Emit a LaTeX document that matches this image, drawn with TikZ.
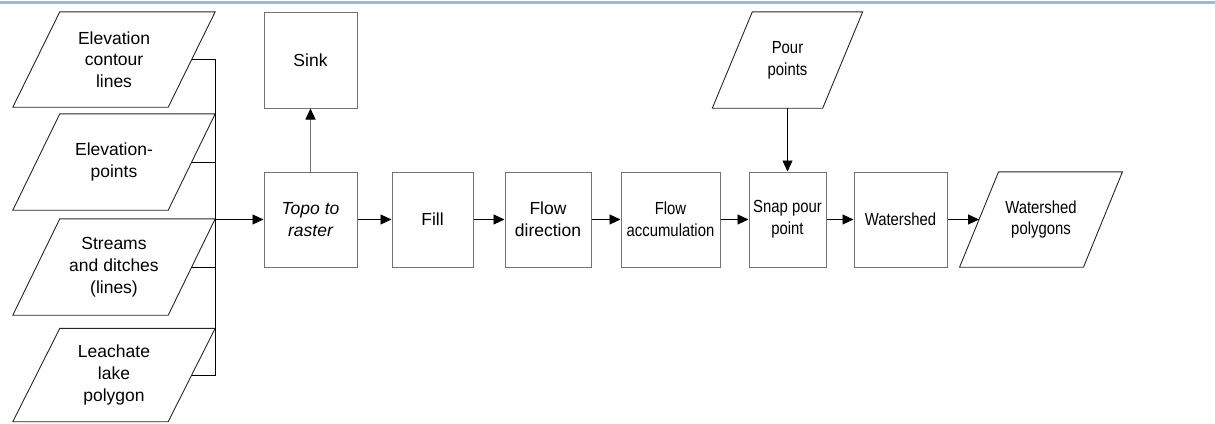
\documentclass[tikz,border=0pt]{standalone}
\usepackage{fontspec}
\usepackage{graphicx}
\setmainfont{Liberation Sans}
\newcommand\nw[1]{\scalebox{0.85}[1]{#1}}
\usetikzlibrary{arrows.meta}
\definecolor{topblue}{RGB}{157,184,220}
\definecolor{boxgray}{RGB}{115,115,115}
\begin{document}
\begin{tikzpicture}[x=1pt,y=-1pt,
  every node/.style={align=center, inner sep=0pt, font=\fontsize{17.5}{21.7}\selectfont},
  italtxt/.style={font=\itshape\fontsize{17.5}{21.7}\selectfont},
  proc/.style={draw=boxgray, line width=1pt, rectangle, minimum height=95pt},
  datanode/.style={rectangle, minimum width=155pt, minimum height=95pt},
  arr/.style={line width=0.9pt, -{Triangle[length=11pt,width=10pt,color=black]}},
  conn/.style={line width=0.9pt},
  paraline/.style={line width=0.9pt, draw=black!85}
]
\useasboundingbox (0,0) rectangle (1215,423);
\fill[topblue] (0,0.5) rectangle (1215,3.5);

% input data
\node[datanode] (c1) at (114,59.5) {Elevation\\contour\\lines};
\node[datanode, minimum height=96pt] (c2) at (114,162) {Elevation-\\points};
\node[datanode, minimum height=96pt] (c3) at (114,267) {Streams\\and ditches\\(lines)};
\node[datanode, minimum height=93pt] (c4) at (114,375) {Leachate\\lake\\polygon};
\node[datanode, minimum width=110pt, minimum height=96pt] (pour) at (787.5,60) {\nw{Pour}\\\nw{points}};
\node[datanode, minimum width=123.5pt] (wpoly) at (1041,219.5) {\nw{Watershed}\\\nw{polygons}};

\foreach \n/\o in {c1/23.5, c2/23.5, c3/23.5, c4/23.5, pour/20, wpoly/19.5}
  \draw[paraline] ([xshift=\o pt]\n.north west) -- ([xshift=\o pt]\n.north east)
     -- ([xshift=-\o pt]\n.south east) -- ([xshift=-\o pt]\n.south west) -- cycle;

% processes
\node[proc, italtxt, minimum width=93pt] (topo) at (310.5,219.5) {Topo to\\raster};
\node[proc, minimum width=93pt, minimum height=96pt] (sink) at (310.5,60) {Sink};
\node[proc, minimum width=81pt] (fill) at (432.5,219.5) {Fill};
\node[proc, minimum width=86pt] (fdir) at (548,219.5) {Flow\\direction};
\node[proc, minimum width=99pt] (facc) at (670.5,219.5) {\nw{Flow}\\\nw{accumulation}};
\node[proc, minimum width=77pt] (snap) at (787.5,219.5) {\nw{Snap pour}\\\nw{point}};
\node[proc, minimum width=93pt] (wshed) at (900.5,219.5) {\nw{Watershed}};

% connectors
\coordinate (j) at (215,219.5);
\draw[conn] (c1.east) -| (j);
\draw[conn] (c4.east) -| (j);
\draw[conn] (c2.east) -- (c2.east -| j);
\draw[conn] (c3.east) -- (c3.east -| j);
\draw[arr] (j) -- (topo.west);
\draw[arr, draw=boxgray] (topo.north) -- (sink.south);
\draw[arr] (topo.east) -- (fill.west);
\draw[arr] (fill.east) -- (fdir.west);
\draw[arr] (fdir.east) -- (facc.west);
\draw[arr] (facc.east) -- (snap.west);
\draw[arr] (snap.east) -- (wshed.west);
\draw[arr] (wshed.east) -- (wpoly.west);
\draw[arr] (pour.south) -- (snap.north);
\end{tikzpicture}
\end{document}
